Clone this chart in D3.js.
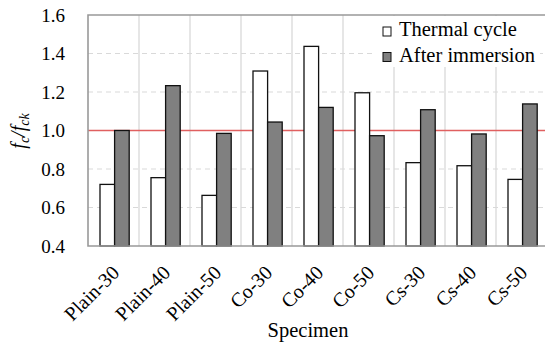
<!DOCTYPE html>
<html>
<head>
<meta charset="utf-8">
<script src="https://cdn.jsdelivr.net/npm/d3@7"></script>
<style>
  body { margin: 0; background: #fff; }
</style>
</head>
<body>
<div id="visArea"></div>
<script>

var categories = ['Plain-30', 'Plain-40', 'Plain-50', 'Co-30', 'Co-40', 'Co-50', 'Cs-30', 'Cs-40', 'Cs-50'];
var seriesNames = ['Thermal cycle', 'After immersion'];
var thermalCycle = [0.72, 0.755, 0.663, 1.309, 1.437, 1.196, 0.833, 0.817, 0.746];
var afterImmersion = [1.0, 1.233, 0.985, 1.044, 1.120, 0.973, 1.108, 0.982, 1.138];
var yTicks = [0.4, 0.6, 0.8, 1.0, 1.2, 1.4, 1.6];
var refValue = 1.0;

var SERIF = 'Liberation Serif';

function drawChart(){
  var W = 545, H = 343;
  var left = 88, right = 547, top = 15, bottom = 246;

  var svg = d3.select('#visArea')
              .append('svg')
              .attr('width', W)
              .attr('height', H);

  var x = d3.scaleBand().domain(categories).range([left, right]);
  var xs = d3.scaleBand().domain(seriesNames).range([12, 41.2]);
  var y = d3.scaleLinear().domain([0.4, 1.6]).range([bottom, top]);

  // gridlines
  var grid = svg.append('g').attr('class', 'grid');
  grid.selectAll('line.v')
    .data(categories.slice(1))
    .enter()
    .append('line')
    .attr('class', 'v')
    .attr('x1', function(d){ return x(d); })
    .attr('x2', function(d){ return x(d); })
    .attr('y1', top)
    .attr('y2', bottom)
    .style('stroke', '#dedede')
    .style('stroke-width', 1.5);

  grid.selectAll('line.h')
    .data(yTicks.filter(function(t){ return t > 0.4 && t < 1.6; }))
    .enter()
    .append('line')
    .attr('class', 'h')
    .attr('x1', left)
    .attr('x2', right)
    .attr('y1', function(d){ return y(d); })
    .attr('y2', function(d){ return y(d); })
    .style('stroke', '#d9d9d9')
    .style('stroke-width', 1.2)
    .style('stroke-dasharray', '5,4');

  // legend background hides grid
  svg.append('rect')
    .attr('x', 372).attr('y', top + 1)
    .attr('width', 168).attr('height', 51)
    .attr('fill', '#fff');

  // reference line
  svg.append('line')
    .attr('x1', left).attr('x2', right)
    .attr('y1', y(refValue)).attr('y2', y(refValue))
    .style('stroke', '#e06060')
    .style('stroke-width', 1.5);

  // bars
  var rows = categories.map(function(c, i){
    return { cat: c, vals: [thermalCycle[i], afterImmersion[i]] };
  });
  var fills = ['#ffffff', '#808080'];
  var groups = svg.append('g').attr('class', 'bars')
    .selectAll('g')
    .data(rows)
    .enter()
    .append('g')
    .attr('transform', function(d){ return 'translate(' + x(d.cat) + ',0)'; });

  groups.selectAll('rect')
    .data(function(d){ return d.vals.map(function(v, j){ return { s: seriesNames[j], v: v, j: j }; }); })
    .enter()
    .append('rect')
    .attr('x', function(d){ return xs(d.s); })
    .attr('y', function(d){ return y(d.v); })
    .attr('width', xs.bandwidth())
    .attr('height', function(d){ return bottom - y(d.v); })
    .attr('fill', function(d){ return fills[d.j]; })
    .style('stroke', '#111')
    .style('stroke-width', 1.3);

  // plot frame
  svg.append('path')
    .attr('d', 'M' + right + ',' + top + 'H' + left + 'V' + bottom + 'H' + right)
    .attr('fill', 'none')
    .style('stroke', '#999')
    .style('stroke-width', 1.6);

  // y tick labels
  svg.append('g').attr('class', 'labels')
    .selectAll('text')
    .data(yTicks)
    .enter()
    .append('text')
    .attr('font-family', SERIF)
    .attr('font-size', 19)
    .attr('x', 65)
    .attr('y', function(d){ return y(d) + 6.5; })
    .attr('text-anchor', 'end')
    .text(function(d){ return d.toFixed(1); });

  // x tick labels
  svg.append('g').attr('class', 'labels x')
    .selectAll('text')
    .data(categories)
    .enter()
    .append('text')
    .attr('font-family', SERIF)
    .attr('font-size', 20)
    .attr('transform', function(d){
      return 'translate(' + (x(d) + x.bandwidth() / 2 + 7) + ',' + (bottom + 28) + ') rotate(-45)';
    })
    .attr('text-anchor', 'end')
    .text(function(d){ return d; });

  // axis titles
  svg.append('text')
    .attr('font-family', SERIF)
    .attr('font-size', 20.5)
    .attr('x', 308)
    .attr('y', 336.5)
    .attr('text-anchor', 'middle')
    .text('Specimen');

  var yl = svg.append('text')
    .attr('font-family', SERIF)
    .attr('font-size', 20)
    .attr('font-style', 'italic')
    .attr('transform', 'translate(25,131) rotate(-90)')
    .attr('text-anchor', 'middle');
  yl.append('tspan').text('f');
  yl.append('tspan').attr('dy', 4).attr('font-size', 14).text('c');
  yl.append('tspan').attr('dy', -4).text('/f');
  yl.append('tspan').attr('dy', 4).attr('font-size', 14).text('ck');

  // legend
  var legend = svg.append('g').attr('class', 'legend');
  var li = legend.selectAll('g')
    .data(seriesNames)
    .enter()
    .append('g')
    .attr('transform', function(d, i){ return 'translate(383,' + (27 + i * 25.5) + ')'; });
  li.append('rect')
    .attr('width', 8).attr('height', 9)
    .attr('fill', function(d, i){ return fills[i]; })
    .style('stroke', '#111')
    .style('stroke-width', 1);
  li.append('text')
    .attr('font-family', SERIF)
    .attr('font-size', 20.5)
    .attr('x', 16)
    .attr('y', 9)
    .text(function(d){ return d; });
}

drawChart();
</script>
</body>
</html>
